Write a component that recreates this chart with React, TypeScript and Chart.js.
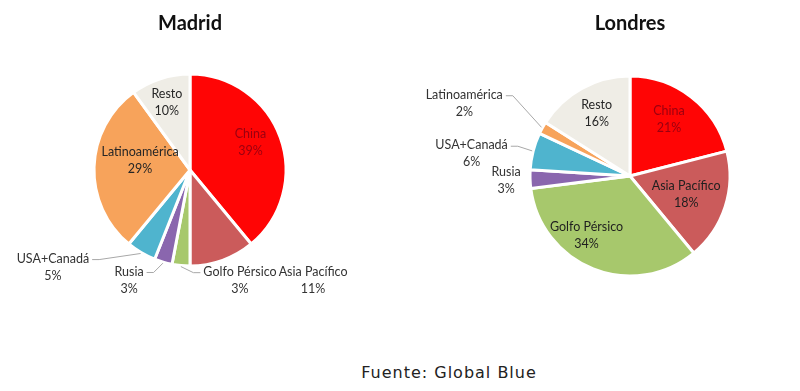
import React, { useEffect, useRef } from "react";
import { Chart, registerables } from "chart.js";

Chart.register(...registerables);

// ---- Data ----
const categories = ["China", "Asia Pacífico", "Golfo Pérsico", "Rusia", "USA+Canadá", "Latinoamérica", "Resto"];
const madridValues = [39, 11, 3, 3, 5, 29, 10];
const londresValues = [21, 18, 34, 3, 6, 2, 16];
const titles = ["Madrid", "Londres"];
const sourceText = "Fuente: Global Blue";

// ---- Styles ----
const sliceColors = ["#FF0505", "#CB5B5B", "#A7C86C", "#8A66AE", "#4FB4CE", "#F7A35B", "#EFEDE6"];
const labelColors = ["#9A0010", "#1F1F1F", "#1F1F1F", "#333333", "#333333", "#262626", "#262626"];
const outsideLabelColor = "#333333";

// label placement (angle shift in degrees from slice middle, distance as a fraction of radius)
const madridShift = [-4.4, -28.4, -29.8, 12.8, 24.1, 9.2, -1];
const madridDist = [0.69, 1.72, 1.26, 1.31, 1.75, 0.53, 0.74];
const madridLeader = [false, false, true, true, true, false, false];
const londresShift = [-3.4, -0.2, 14.4, -0.2, -6.4, -5.1, 0.8];
const londresDist = [0.69, 0.59, 0.74, 1.24, 1.6, 1.81, 0.71];
const londresLeader = [false, false, false, false, true, true, false];

const FONT = "Lato, 'Open Sans', sans-serif";

function makeLabelPlugin(shift: number[], dist: number[], leader: boolean[]) {
  return {
    id: "sliceLabels",
    afterDraw(chart: any) {
      const ctx = chart.ctx as CanvasRenderingContext2D;
      const meta = chart.getDatasetMeta(0);
      const values = chart.data.datasets[0].data as number[];
      const labels = chart.data.labels as string[];
      const total = values.reduce((a, b) => a + b, 0);
      ctx.save();
      ctx.font = `12.5px ${FONT}`;
      ctx.textAlign = "center";
      ctx.textBaseline = "middle";
      meta.data.forEach((arc: any, i: number) => {
        const { x, y, startAngle, endAngle, outerRadius } = arc.getProps(
          ["x", "y", "startAngle", "endAngle", "outerRadius"],
          true
        );
        const mid = (startAngle + endAngle) / 2;
        const a = mid + (shift[i] * Math.PI) / 180;
        const px = x + Math.cos(a) * dist[i] * outerRadius;
        const py = y + Math.sin(a) * dist[i] * outerRadius;
        const name = labels[i];
        const pct = Math.round((values[i] / total) * 100) + "%";
        const nameY = py - 8.5;
        const pctY = py + 8.5;
        const outside = dist[i] > 1;
        if (leader[i]) {
          const w = ctx.measureText(name).width;
          const ex = x + Math.cos(mid) * (outerRadius + 1);
          const ey = y + Math.sin(mid) * (outerRadius + 1);
          const right = ex > px;
          const sx = right ? px + w / 2 + 3 : px - w / 2 - 3;
          const sy = nameY + 1;
          const bx = right ? sx + 7 : sx - 7;
          ctx.strokeStyle = "#A8A8A8";
          ctx.lineWidth = 1;
          ctx.beginPath();
          ctx.moveTo(sx, sy);
          ctx.lineTo(bx, sy);
          ctx.lineTo(ex, ey);
          ctx.stroke();
        }
        ctx.fillStyle = outside ? outsideLabelColor : labelColors[i];
        ctx.fillText(name, px, nameY);
        ctx.fillText(pct, px, pctY);
      });
      ctx.restore();
    },
  };
}

function PieChart(props: {
  values: number[];
  title: string;
  radius: number;
  padding: any;
  shift: number[];
  dist: number[];
  leader: boolean[];
  left: number;
  width: number;
  height: number;
}) {
  const ref = useRef<HTMLCanvasElement | null>(null);
  useEffect(() => {
    if (!ref.current) return;
    const chart = new Chart(ref.current, {
      type: "pie",
      data: {
        labels: categories,
        datasets: [
          {
            data: props.values,
            backgroundColor: sliceColors,
            borderColor: "#FFFFFF",
            borderWidth: 3,
            radius: props.radius,
          } as any,
        ],
      },
      options: {
        responsive: false,
        animation: false,
        devicePixelRatio: 1,
        layout: { padding: props.padding },
        plugins: {
          legend: { display: false },
          tooltip: { enabled: false },
          title: {
            display: true,
            text: props.title,
            color: "#111111",
            font: { family: FONT, size: 20, weight: "bold" },
            padding: { top: 12, bottom: 24 },
          },
        },
      },
      plugins: [makeLabelPlugin(props.shift, props.dist, props.leader)],
    });
    return () => chart.destroy();
  }, []);
  return (
    <canvas
      ref={ref}
      width={props.width}
      height={props.height}
      style={{ position: "absolute", left: props.left, top: 0, width: props.width, height: props.height }}
    />
  );
}

export default function App() {
  return (
    <div
      style={{
        position: "fixed",
        left: 0,
        top: 0,
        width: 800,
        height: 391,
        background: "#FFFFFF",
        overflow: "hidden",
      }}
    >
      <PieChart
        values={madridValues}
        title={titles[0]}
        radius={96}
        padding={{ bottom: 40 }}
        shift={madridShift}
        dist={madridDist}
        leader={madridLeader}
        left={0}
        width={380}
        height={320}
      />
      <PieChart
        values={londresValues}
        title={titles[1]}
        radius={100}
        padding={{ left: 60, bottom: 28 }}
        shift={londresShift}
        dist={londresDist}
        leader={londresLeader}
        left={400}
        width={400}
        height={320}
      />
      <div
        style={{
          position: "absolute",
          left: 0,
          width: 898,
          top: 363,
          textAlign: "center",
          fontFamily: "'DejaVu Sans', Verdana, sans-serif",
          fontSize: 16,
          letterSpacing: 1,
          color: "#222222",
          lineHeight: "20px",
        }}
      >
        {sourceText}
      </div>
    </div>
  );
}
